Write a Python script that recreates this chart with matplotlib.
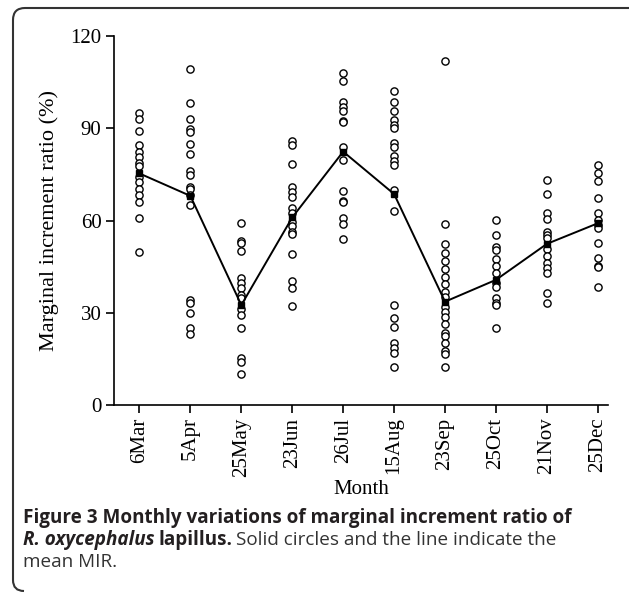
import matplotlib
matplotlib.use("Agg")
import matplotlib.pyplot as plt
from matplotlib.path import Path
from matplotlib.patches import PathPatch

# Sampling dates (x tick labels)
months = ["6Mar", "5Apr", "25May", "23Jun", "26Jul", "15Aug", "23Sep", "25Oct", "21Nov", "25Dec"]

# Individual marginal increment ratios (%)
mir_mar = [94.9, 93.1, 89.2, 84.6, 82.4, 80.8, 78.6, 77.8, 74.3, 72.4, 70.2, 68.3, 66.1, 60.7, 49.9]
mir_apr = [109.2, 98.1, 93.0, 89.6, 88.9, 84.9, 81.5, 76.2, 74.8, 71.0, 70.2, 68.3, 65.0, 34.1, 33.3, 29.8, 24.9, 23.0]
mir_may = [59.3, 53.3, 52.8, 50.1, 41.4, 39.8, 37.9, 35.8, 34.7, 31.1, 29.3, 24.9, 15.2, 14.1, 10.0]
mir_jun = [85.9, 84.6, 78.3, 71.0, 69.4, 67.8, 64.2, 62.6, 59.6, 58.2, 56.1, 55.5, 49.0, 40.4, 38.2, 32.3]
mir_jul = [108.1, 105.4, 98.6, 96.8, 95.7, 92.5, 92.1, 83.8, 79.7, 69.7, 66.4, 65.9, 60.9, 58.7, 54.0]
mir_aug = [102.1, 98.6, 95.7, 92.7, 91.1, 90.0, 85.1, 84.0, 81.0, 79.5, 78.0, 69.9, 63.2,
           32.5, 28.2, 25.5, 20.1, 18.4, 16.8, 12.5]
mir_sep = [112.0, 58.7, 52.4, 49.3, 46.9, 44.1, 41.7, 39.2, 36.9, 35.2, 32.0, 30.4, 28.7,
           26.2, 23.5, 22.4, 20.3, 17.6, 16.5, 12.5]
mir_oct = [60.2, 55.3, 51.5, 50.4, 47.4, 45.2, 43.0, 39.6, 38.5, 34.7, 33.3, 32.5, 24.9]
mir_nov = [73.2, 68.5, 62.6, 60.4, 56.4, 55.3, 54.2, 50.6, 48.5, 46.1, 44.4, 42.8, 36.3, 33.3]
mir_dec = [78.0, 75.6, 72.8, 67.2, 62.6, 60.2, 58.5, 57.4, 52.8, 47.9, 45.2, 44.8, 38.3]

# Monthly mean MIR (solid markers + line)
mir_mean = [75.3, 68.0, 32.5, 61.0, 82.4, 68.6, 33.6, 40.7, 52.4, 59.1]

samples = [mir_mar, mir_apr, mir_may, mir_jun, mir_jul, mir_aug, mir_sep, mir_oct, mir_nov, mir_dec]

W, H = 632, 593
fig = plt.figure(figsize=(W / 100, H / 100), dpi=100)
ax = fig.add_axes([114 / W, 1 - 405 / H, (608 - 114) / W, (405 - 36) / H])

serif = "Liberation Serif"
x = list(range(1, len(months) + 1))

for i, vals in zip(x, samples):
    ax.plot([i] * len(vals), vals, linestyle="none", marker="o", markersize=5.2,
            markerfacecolor="white", markeredgecolor="black", markeredgewidth=1.0, zorder=2)

ax.plot(x, mir_mean, color="black", linewidth=1.4, zorder=3)
ax.plot(x, mir_mean, linestyle="none", marker="s", markersize=4.5, color="black", zorder=4)

ax.set_xlim(0.5, 10.2)
ax.set_ylim(0, 120)
ax.set_yticks([0, 30, 60, 90, 120])
ax.set_xticks(x)
ax.set_xticklabels(months, rotation=90, fontfamily=serif, fontsize=15)
for lab in ax.get_yticklabels():
    lab.set_fontfamily(serif)
    lab.set_fontsize(15)

for side in ["top", "right"]:
    ax.spines[side].set_visible(False)
for side in ["left", "bottom"]:
    ax.spines[side].set_linewidth(1.2)
ax.tick_params(direction="out", length=6, width=1.2, pad=3)

ax.set_ylabel("Marginal increment ratio (%)", fontfamily=serif, fontsize=16, labelpad=8)
ax.set_xlabel("Month", fontfamily=serif, fontsize=15, labelpad=2)

# caption
sans = "Open Sans"
fs = 13.6
fig.text(23 / W, 1 - 518 / H, "Figure 3 Monthly variations of marginal increment ratio of",
         fontfamily=sans, fontweight="bold", fontsize=fs, va="center", color="#231f20")
t1 = fig.text(23 / W, 1 - 540 / H, "R. oxycephalus", fontfamily=sans, fontweight="bold",
              fontstyle="italic", fontsize=fs, va="center", color="#231f20")
fig.canvas.draw()
bb = t1.get_window_extent()
t2 = fig.text((bb.x1 + 4) / W, 1 - 540 / H, "lapillus.", fontfamily=sans, fontweight="bold",
              fontsize=fs, va="center", color="#231f20")
fig.canvas.draw()
bb = t2.get_window_extent()
fig.text((bb.x1 + 4) / W, 1 - 540 / H, "Solid circles and the line indicate the",
         fontfamily=sans, fontsize=fs, va="center", color="#333333")
fig.text(23 / W, 1 - 562 / H, "mean MIR.", fontfamily=sans, fontsize=fs, va="center", color="#333333")

# rounded frame (left and top edges)
r = 12
verts = [(24, 591), (13, 591), (13, 580), (13, 8 + r), (13, 8), (13 + r, 8), (629, 8)]
codes = [Path.MOVETO, Path.CURVE3, Path.CURVE3, Path.LINETO, Path.CURVE3, Path.CURVE3, Path.LINETO]
verts = [(vx / W, 1 - vy / H) for vx, vy in verts]
fig.add_artist(PathPatch(Path(verts, codes), transform=fig.transFigure, fill=False,
                         edgecolor="#333333", linewidth=1.5))

fig.savefig("out.png", dpi=100)
